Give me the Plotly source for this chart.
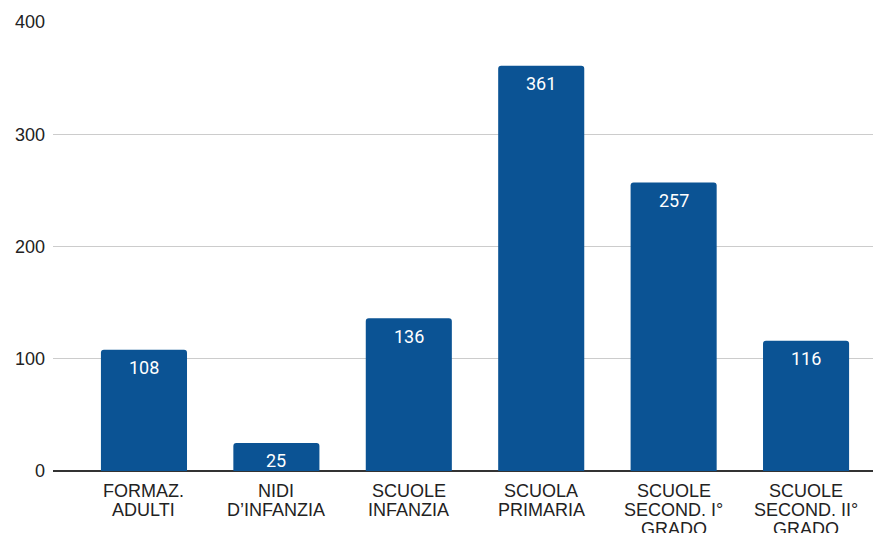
import plotly.graph_objects as go

categories = ["FORMAZ. ADULTI", "NIDI D\u2019INFANZIA", "SCUOLE INFANZIA",
              "SCUOLA PRIMARIA", "SCUOLE SECOND. I\u00b0 GRADO", "SCUOLE SECOND. II\u00b0 GRADO"]
label_lines = [["FORMAZ.", "ADULTI"], ["NIDI", "D\u2019INFANZIA"], ["SCUOLE", "INFANZIA"],
               ["SCUOLA", "PRIMARIA"], ["SCUOLE", "SECOND. I\u00b0", "GRADO"],
               ["SCUOLE", "SECOND. II\u00b0", "GRADO"]]
values = [108, 25, 136, 361, 257, 116]
yticks = [0, 100, 200, 300, 400]

xs = list(range(len(categories)))
fig = go.Figure(go.Bar(x=xs, y=values, width=0.65,
                       marker=dict(color="#0b5394", cornerradius=3, line=dict(width=0)),
                       hoverinfo="skip"))

ann = []
for xi, v in zip(xs, values):
    ann.append(dict(x=xi, y=v, xref="x", yref="y", text=str(v), showarrow=False,
                    yanchor="top", yshift=-6.5, borderpad=0,
                    font=dict(family="Roboto", size=18, color="white")))
for xi, lines in zip(xs, label_lines):
    for i, t in enumerate(lines):
        ann.append(dict(x=xi, y=0, xref="x", yref="paper", text=t, showarrow=False,
                        yanchor="top", yshift=-8.5 - i * 19.3, borderpad=0,
                        font=dict(family="Liberation Sans, Arial", size=18, color="#222222")))

fig.update_layout(
    width=873, height=525,
    margin=dict(l=45, r=0, t=14, b=61.5),
    plot_bgcolor="white", paper_bgcolor="white",
    showlegend=False,
    annotations=ann,
    xaxis=dict(range=[-0.687, 5.566], showticklabels=False, showgrid=False,
               zeroline=False, showline=False, fixedrange=True),
    yaxis=dict(range=[0, 400], tickvals=yticks, ticktext=[str(t) for t in yticks],
               showgrid=True, gridcolor="#cccccc", gridwidth=1,
               zeroline=True, zerolinecolor="#333333", zerolinewidth=1.5,
               tickfont=dict(family="Liberation Sans, Arial", size=18, color="#222222"),
               ticks="", ticklabelstandoff=7, fixedrange=True),
)
fig.write_html("out.html")
